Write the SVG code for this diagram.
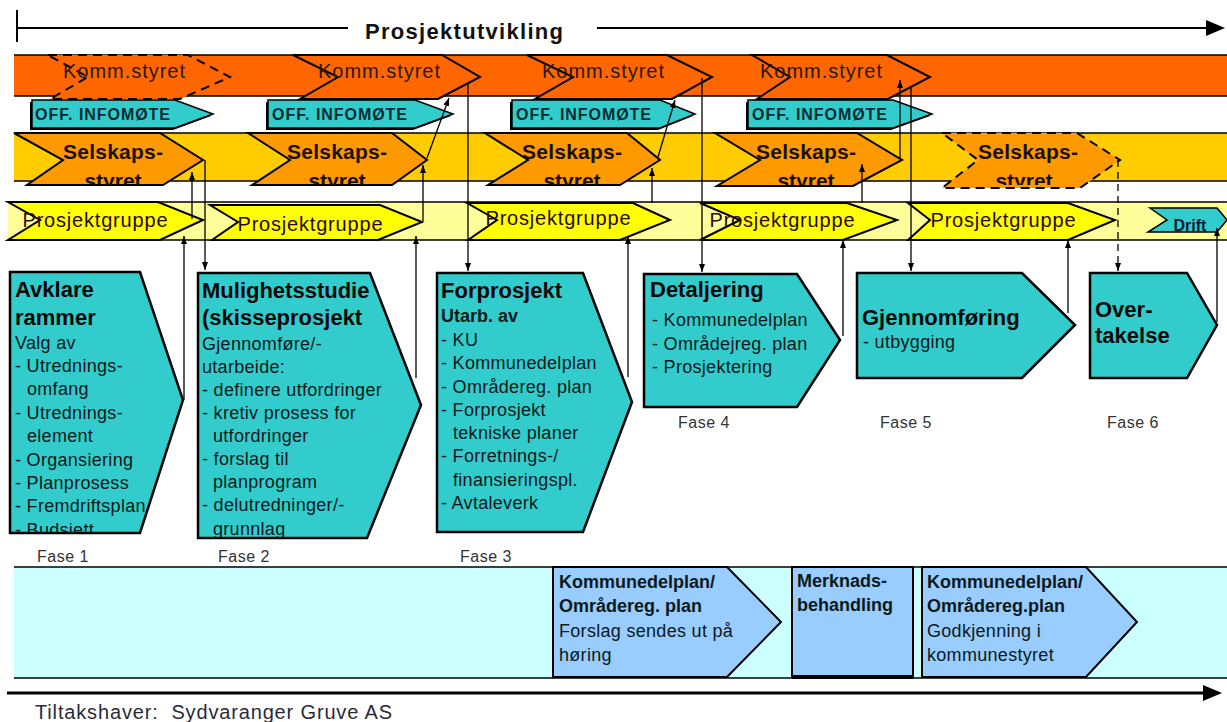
<svg xmlns="http://www.w3.org/2000/svg" width="1227" height="722" viewBox="0 0 1227 722">
<style>
text{font-family:"Liberation Sans",Arial,sans-serif}
.edge{stroke:#000;stroke-width:1.5}
.komm{fill:#FF6600;stroke:#000;stroke-width:2}
.kt{font-size:20px;fill:#2a1a00;text-anchor:middle}
.off{fill:#33CCCC;stroke:#000;stroke-width:1.5}
.ot{font-size:16px;font-weight:bold;fill:#0b2b33}
.sel{fill:#FF9900;stroke:#000;stroke-width:2}
.st{font-size:21px;font-weight:bold;fill:#1a1000;text-anchor:middle}
.pg{fill:#FFFF00;stroke:#000;stroke-width:2}
.pt{font-size:20px;fill:#2a0a0a;text-anchor:middle}
.dash{stroke-dasharray:9 6}
.fase{fill:#33CCCC;stroke:#000;stroke-width:2.5}
.h{font-size:22px;font-weight:bold;fill:#0a0a0a}
.b{font-size:18px;fill:#0a1a1a;letter-spacing:0.3px}
.bb{font-size:18px;font-weight:bold;fill:#0a1a1a}
.fl{font-size:16px;fill:#333;letter-spacing:0.5px}
.blue{fill:#99CCFF;stroke:#000;stroke-width:2}
.con{stroke:#000;stroke-width:1.3;fill:none}
</style>
<defs>
<marker id="ah" viewBox="0 0 8 6" refX="8" refY="3" markerWidth="8" markerHeight="6" markerUnits="userSpaceOnUse" orient="auto">
<path d="M0,0 L8,3 L0,6 z" fill="#000"/>
</marker>
<clipPath id="cs"><rect x="0" y="0" width="1227" height="185"/></clipPath>
<clipPath id="c1"><polygon points="10,272 140,272 183,400 140,533 10,533"/></clipPath>
<clipPath id="c2"><polygon points="198,273 370,273 421,405 367,538 198,538"/></clipPath>
<clipPath id="c3"><polygon points="437,273 583,273 632,402 583,532 437,532"/></clipPath>
</defs>

<g id="title">
<line x1="17" y1="10" x2="17" y2="42" stroke="#000" stroke-width="2"/>
<line x1="17" y1="28" x2="348" y2="28" stroke="#000" stroke-width="2"/>
<text x="464" y="39" font-size="22" font-weight="bold" text-anchor="middle" textLength="198" lengthAdjust="spacing" fill="#111">Prosjektutvikling</text>
<line x1="597" y1="28" x2="1210" y2="28" stroke="#000" stroke-width="2"/>
<polygon points="1206,20 1225,28 1206,36" fill="#000"/>
</g>

<g id="bands">
<rect x="14" y="55" width="1213" height="41" fill="#FF6600"/>
<line class="edge" x1="14" y1="55" x2="1227" y2="55"/>
<line class="edge" x1="14" y1="96" x2="1227" y2="96"/>
<rect x="14" y="133" width="1213" height="48" fill="#FFCC00"/>
<line class="edge" x1="14" y1="133" x2="1227" y2="133"/>
<line class="edge" x1="14" y1="181" x2="1227" y2="181"/>
<rect x="8" y="202" width="1219" height="38" fill="#FFFF99"/>
<line class="edge" x1="8" y1="202" x2="1227" y2="202"/>
<line class="edge" x1="8" y1="240" x2="1227" y2="240"/>
<rect x="14" y="567" width="1213" height="111" fill="#CCFFFF"/>
<line class="edge" x1="14" y1="567" x2="1227" y2="567"/>
<line class="edge" x1="14" y1="678" x2="1227" y2="678"/>
</g>

<g id="komm1">
<polygon class="komm dash" points="48,55 188,55 230,77 180,99 50,99 88,77"/>
<text class="kt" x="124" y="78" textLength="122" lengthAdjust="spacing">Komm.styret</text>
</g>
<g id="komm2">
<polygon class="komm" points="293,55 442,55 480,77 438,99 300,99 338,77"/>
<text class="kt" x="379" y="78" textLength="122" lengthAdjust="spacing">Komm.styret</text>
</g>
<g id="komm3">
<polygon class="komm" points="527,55 667,55 712,77 672,99 535,99 573,77"/>
<text class="kt" x="603" y="78" textLength="122" lengthAdjust="spacing">Komm.styret</text>
</g>
<g id="komm4">
<polygon class="komm" points="752,55 887,55 930,77 888,99 757,99 790,77"/>
<text class="kt" x="821" y="78" textLength="122" lengthAdjust="spacing">Komm.styret</text>
</g>

<g id="off1">
<polygon points="30,102 173,102 211,116 173,130 30,130" fill="#000"/>
<polygon class="off" points="32,100 175,100 213,114 175,128 32,128"/>
<text class="ot" x="35" y="120" textLength="135" lengthAdjust="spacing">OFF. INFOMØTE</text>
</g>
<g id="off2">
<polygon points="266,102 413,102 451,116 413,130 266,130" fill="#000"/>
<polygon class="off" points="268,100 415,100 453,114 415,128 268,128"/>
<text class="ot" x="272" y="120" textLength="135" lengthAdjust="spacing">OFF. INFOMØTE</text>
</g>
<g id="off3">
<polygon points="510,102 658,102 693,116 658,130 510,130" fill="#000"/>
<polygon class="off" points="512,100 660,100 695,114 660,128 512,128"/>
<text class="ot" x="516" y="120" textLength="135" lengthAdjust="spacing">OFF. INFOMØTE</text>
</g>
<g id="off4">
<polygon points="746,102 891,102 930,116 891,130 746,130" fill="#000"/>
<polygon class="off" points="748,100 893,100 932,114 893,128 748,128"/>
<text class="ot" x="752" y="120" textLength="135" lengthAdjust="spacing">OFF. INFOMØTE</text>
</g>

<g id="sel1">
<polygon class="sel" points="14,133 160,133 203,160 163,185 27,185 63,160"/>
<text class="st" x="113" y="159" textLength="100" lengthAdjust="spacing">Selskaps-</text>
<text class="st" x="113" y="188" clip-path="url(#cs)">styret</text>
</g>
<g id="sel2">
<polygon class="sel" points="248,133 392,133 427,160 392,185 252,185 290,160"/>
<text class="st" x="337" y="159" textLength="100" lengthAdjust="spacing">Selskaps-</text>
<text class="st" x="337" y="188" clip-path="url(#cs)">styret</text>
</g>
<g id="sel3">
<polygon class="sel" points="485,133 627,133 660,160 620,185 488,185 528,160"/>
<text class="st" x="572" y="159" textLength="100" lengthAdjust="spacing">Selskaps-</text>
<text class="st" x="572" y="188" clip-path="url(#cs)">styret</text>
</g>
<g id="sel4">
<polygon class="sel" points="715,133 857,133 902,160 853,186 717,186 760,160"/>
<text class="st" x="806" y="159" textLength="100" lengthAdjust="spacing">Selskaps-</text>
<text class="st" x="806" y="188" clip-path="url(#cs)">styret</text>
</g>
<g id="sel5">
<polygon class="sel dash" points="942,133 1077,133 1120,160 1080,188 942,188 978,160"/>
<text class="st" x="1028" y="159" textLength="100" lengthAdjust="spacing">Selskaps-</text>
<text class="st" x="1024" y="188" clip-path="url(#cs)">styret</text>
</g>

<g id="pg1">
<polygon class="pg" points="8,202 158,202 203,220 160,240 8,240 40,220"/>
<text class="pt" x="95" y="227" textLength="145" lengthAdjust="spacing">Prosjektgruppe</text>
</g>
<g id="pg2">
<polygon class="pg" points="210,205 380,205 422,222 378,240 212,240 238,222"/>
<text class="pt" x="310" y="231" textLength="145" lengthAdjust="spacing">Prosjektgruppe</text>
</g>
<g id="pg3">
<polygon class="pg" points="467,203 633,203 670,220 620,240 468,240 497,220"/>
<text class="pt" x="558" y="225" textLength="145" lengthAdjust="spacing">Prosjektgruppe</text>
</g>
<g id="pg4">
<polygon class="pg" points="700,203 847,203 897,220 843,240 700,240 740,220"/>
<text class="pt" x="782" y="227" textLength="145" lengthAdjust="spacing">Prosjektgruppe</text>
</g>
<g id="pg5">
<polygon class="pg" points="908,203 1068,203 1115,220 1068,240 908,240 930,220"/>
<text class="pt" x="1003" y="227" textLength="145" lengthAdjust="spacing">Prosjektgruppe</text>
</g>
<g id="drift">
<polygon class="off" points="1150,208 1217,208 1227,220 1217,232 1148,232 1167,220"/>
<text x="1190" y="231" font-size="16" font-weight="bold" fill="#0b1b33" text-anchor="middle">Drift</text>
</g>

<g id="fase1">
<polygon class="fase" points="10,272 140,272 183,400 140,533 10,533"/>
<g clip-path="url(#c1)">
<text class="h" x="15" y="297">Avklare</text>
<text class="h" x="15" y="325">rammer</text>
<text class="b" x="15" y="349">Valg av</text>
<text class="b" x="15" y="372">- Utrednings-</text>
<text class="b" x="27" y="395">omfang</text>
<text class="b" x="15" y="419">- Utrednings-</text>
<text class="b" x="27" y="442">element</text>
<text class="b" x="15" y="466">- Organsiering</text>
<text class="b" x="15" y="489">- Planprosess</text>
<text class="b" x="15" y="512">- Fremdriftsplan</text>
<text class="b" x="15" y="536">- Budsjett</text>
</g>
<text class="fl" x="37" y="562">Fase 1</text>
</g>
<g id="fase2">
<polygon class="fase" points="198,273 370,273 421,405 367,538 198,538"/>
<g clip-path="url(#c2)">
<text class="h" x="202" y="298">Mulighetsstudie</text>
<text class="h" x="202" y="325">(skisseprosjekt</text>
<text class="b" x="202" y="350">Gjennomføre/-</text>
<text class="b" x="202" y="373">utarbeide:</text>
<text class="b" x="202" y="396">- definere utfordringer</text>
<text class="b" x="202" y="419">- kretiv prosess for</text>
<text class="b" x="213" y="442">utfordringer</text>
<text class="b" x="202" y="465">- forslag til</text>
<text class="b" x="213" y="488">planprogram</text>
<text class="b" x="202" y="511">- delutredninger/-</text>
<text class="b" x="213" y="535">grunnlag</text>
</g>
<text class="fl" x="218" y="562">Fase 2</text>
</g>
<g id="fase3">
<polygon class="fase" points="437,273 583,273 632,402 583,532 437,532"/>
<g clip-path="url(#c3)">
<text class="h" x="441" y="298">Forprosjekt</text>
<text class="bb" x="441" y="322">Utarb. av</text>
<text class="b" x="441" y="346">- KU</text>
<text class="b" x="441" y="369">- Kommunedelplan</text>
<text class="b" x="441" y="393">- Områdereg. plan</text>
<text class="b" x="441" y="416">- Forprosjekt</text>
<text class="b" x="453" y="439">tekniske planer</text>
<text class="b" x="441" y="462">- Forretnings-/</text>
<text class="b" x="453" y="486">finansieringspl.</text>
<text class="b" x="441" y="509">- Avtaleverk</text>
</g>
<text class="fl" x="460" y="562">Fase 3</text>
</g>
<g id="fase4">
<polygon class="fase" points="644,274 797,274 840,340 797,407 644,407"/>
<text class="h" x="650" y="297">Detaljering</text>
<text class="b" x="652" y="326">- Kommunedelplan</text>
<text class="b" x="652" y="350">- Områdejreg. plan</text>
<text class="b" x="652" y="373">- Prosjektering</text>
<text class="fl" x="678" y="428">Fase 4</text>
</g>
<g id="fase5">
<polygon class="fase" points="857,273 1022,273 1075,325 1022,378 857,378"/>
<text class="h" x="862" y="325">Gjennomføring</text>
<text class="b" x="863" y="348">- utbygging</text>
<text class="fl" x="880" y="428">Fase 5</text>
</g>
<g id="fase6">
<polygon class="fase" points="1090,273 1187,273 1217,325 1187,378 1090,378"/>
<text class="h" x="1095" y="317">Over-</text>
<text class="h" x="1095" y="343">takelse</text>
<text class="fl" x="1107" y="428">Fase 6</text>
</g>

<g id="plan1">
<polygon class="blue" points="553,567 727,567 781,622 727,677 553,677"/>
<text class="bb" x="559" y="588">Kommunedelplan/</text>
<text class="bb" x="559" y="612">Områdereg. plan</text>
<text class="b" x="559" y="637">Forslag sendes ut på</text>
<text class="b" x="559" y="661">høring</text>
</g>
<g id="merknad">
<rect class="blue" x="792" y="567" width="121" height="110"/>
<line x1="792" y1="677" x2="913" y2="677" stroke="#000" stroke-width="4"/>
<text class="bb" x="797" y="587">Merknads-</text>
<text class="bb" x="797" y="611">behandling</text>
</g>
<g id="plan2">
<polygon class="blue" points="922,567 1086,567 1137,622 1086,677 922,677"/>
<text class="bb" x="927" y="588">Kommunedelplan/</text>
<text class="bb" x="927" y="612">Områdereg.plan</text>
<text class="b" x="927" y="637">Godkjenning i</text>
<text class="b" x="927" y="661">kommunestyret</text>
</g>

<g id="footer">
<line x1="7" y1="693" x2="1205" y2="693" stroke="#000" stroke-width="3"/>
<polygon points="1203,685 1222,693 1203,701" fill="#000"/>
<text x="35" y="719" font-size="20" fill="#2a2a3a" xml:space="preserve" textLength="357" lengthAdjust="spacing">Tiltakshaver:  Sydvaranger Gruve AS</text>
</g>

<g id="connectors">
<line class="con" x1="184" y1="400" x2="184" y2="236" marker-end="url(#ah)"/>
<line class="con" x1="192" y1="219" x2="192" y2="172" marker-end="url(#ah)"/>
<line class="con" x1="205" y1="160" x2="205" y2="270" marker-end="url(#ah)"/>

<line class="con" x1="416" y1="378" x2="416" y2="236" marker-end="url(#ah)"/>
<line class="con" x1="423" y1="221" x2="423" y2="165" marker-end="url(#ah)"/>
<line class="con" x1="427" y1="158" x2="449" y2="98" marker-end="url(#ah)"/>
<line class="con" x1="468" y1="84" x2="468" y2="271" marker-end="url(#ah)"/>

<line class="con" x1="628" y1="377" x2="628" y2="236" marker-end="url(#ah)"/>
<line class="con" x1="652" y1="203" x2="652" y2="168" marker-end="url(#ah)"/>
<line class="con" x1="658" y1="157" x2="675" y2="100" marker-end="url(#ah)"/>
<line class="con" x1="702" y1="78" x2="702" y2="272" marker-end="url(#ah)"/>

<line class="con" x1="843" y1="336" x2="843" y2="240" marker-end="url(#ah)"/>
<line class="con" x1="862" y1="203" x2="862" y2="164" marker-end="url(#ah)"/>
<line class="con" x1="900" y1="158" x2="900" y2="80" marker-end="url(#ah)"/>
<line class="con" x1="911" y1="88" x2="911" y2="271" marker-end="url(#ah)"/>

<line class="con" x1="1068" y1="313" x2="1068" y2="240" marker-end="url(#ah)"/>
<line class="con" x1="1118" y1="160" x2="1118" y2="271" stroke-dasharray="7 5" marker-end="url(#ah)"/>

<line class="con" x1="1217" y1="322" x2="1217" y2="228" marker-end="url(#ah)"/>
</g>
</svg>
